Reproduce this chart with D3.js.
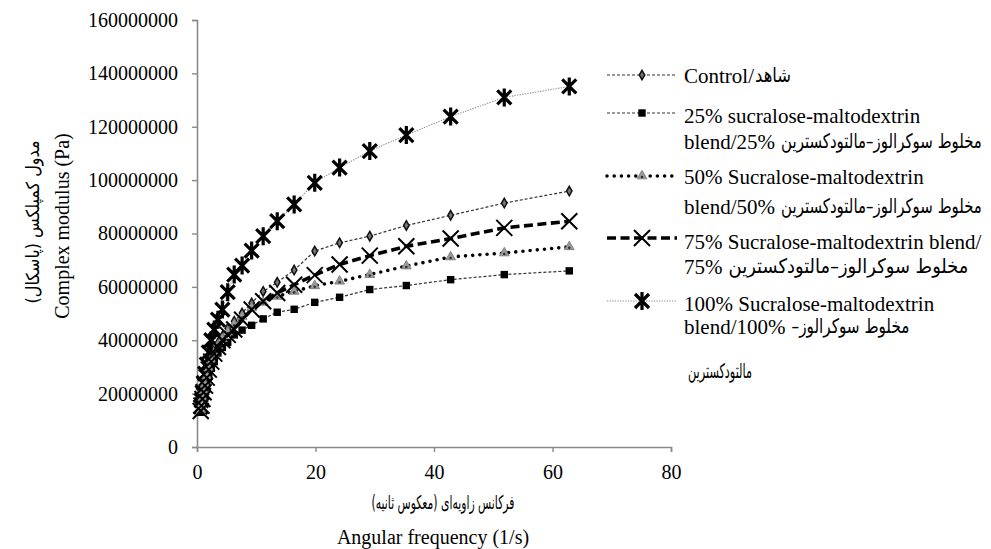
<!DOCTYPE html>
<html><head><meta charset="utf-8">
<script src="https://cdn.jsdelivr.net/npm/d3@7"></script>
<style>
html,body{margin:0;padding:0;background:#fff;}
svg{display:block;}
text{fill:#000;}
</style></head>
<body>
<svg id="chart" width="991" height="549"></svg>
<script>
// Angular frequency (1/s)
const freq = [0.628,0.761,0.922,1.117,1.354,1.640,1.987,2.407,2.916,3.533,4.281,5.186,6.283,7.612,9.222,11.17,13.54,16.40,19.87,24.07,29.16,35.33,42.81,51.86,62.83];
// Complex modulus (Pa), in millions
const controlVals = [14,16,18.5,21,24,27,30,33,36,39,41.5,44.5,47.1,50.2,54,58.3,61.7,66.3,73.4,76.5,79,83,86.8,91.4,95.9];
const s25Vals = [13,15,17,19.5,22,24.5,27,29.5,32,35.2,37.3,39.2,42,43.8,45.6,48,50.5,51.6,54.2,56.1,59,60.5,62.7,64.6,66];
const s50Vals = [14,16,18.5,21,23.5,26.5,29.5,32.5,35,38,40.5,43,46,48.9,52.2,54.2,56.4,58.3,60.4,62.1,64.6,67.8,71.2,72.7,75];
const s75Vals = [13.5,15.5,18,20.5,23,26,29,32,35,37.5,40,42,44,47.7,51.5,54.6,57.7,60.8,64.4,68.4,71.7,75.2,78.1,82.1,84.6];
const s100Vals = [15,17.5,20.5,24,27.5,31,35.5,40,44,47.7,51.5,58,64.6,68,73.6,79,84.6,90.9,99,104.7,110.9,116.9,123.8,131,135.1];
const xTicks = [0,20,40,60,80];
const yTicks = [0,20000000,40000000,60000000,80000000,100000000,120000000,140000000,160000000];
const seriesNames = ["control","s25","s50","s75","s100"];
// legend text: each row = [latin part, persian part]
const legendRows = [
  [["Control/","شاهد"]],
  [["25% sucralose-maltodextrin",""],["blend/25%","مخلوط سوکرالوز–مالتودکسترین"]],
  [["50% Sucralose-maltodextrin",""],["blend/50%","مخلوط سوکرالوز–مالتودکسترین"]],
  [["75% Sucralose-maltodextrin blend/",""],["75%","مخلوط سوکرالوز–مالتودکسترین"]],
  [["100% Sucralose-maltodextrin",""],["blend/100%","مخلوط سوکرالوز–"],["","مالتودکسترین"]]
];
const yTitle = "Complex modulus (Pa)";
const yTitleFa = "مدول کمپلکس (پاسکال)";
const xTitle = "Angular frequency (1/s)";
const xTitleFa = "فرکانس زاویه‌ای (معکوس ثانیه)";

const allVals = [controlVals,s25Vals,s50Vals,s75Vals,s100Vals];

const SERIF = "Liberation Serif, Times New Roman, serif";
const FA = "DejaVu Sans, Noto Sans, sans-serif";

const svg = d3.select("#chart");
const L = 197, R = 671, T = 20, B = 447;
const x = d3.scaleLinear().domain([0,80]).range([L,R]);
const y = d3.scaleLinear().domain([0,160000000]).range([B,T]);
const axisColor = "#8a8a8a";

// axes
const xa = svg.append("g").attr("transform",`translate(0,${B})`)
  .call(d3.axisBottom(x).tickValues(xTicks).tickSize(5).tickPadding(13).tickFormat(d3.format("d")));
const ya = svg.append("g").attr("transform",`translate(${L},0)`)
  .call(d3.axisLeft(y).tickValues(yTicks).tickSize(5).tickPadding(14).tickFormat(d3.format("d")));
[xa,ya].forEach(g=>{
  g.attr("font-family",SERIF).attr("font-size",20);
  g.select(".domain").attr("stroke",axisColor).attr("stroke-width",1.6);
  g.selectAll(".tick line").attr("stroke",axisColor).attr("stroke-width",1.4);
  g.selectAll(".tick text").attr("font-family",SERIF).attr("font-size",20).attr("fill","#000");
});

const styles = {
  control:{stroke:"#333",width:1.2,dash:"3,2",marker:"diamond"},
  s25:{stroke:"#333",width:1.2,dash:"3,2",marker:"square"},
  s50:{stroke:"#000",width:3.6,dash:"0,7.2",cap:"round",marker:"triangle"},
  s75:{stroke:"#000",width:3.6,dash:"9,4.5",marker:"x"},
  s100:{stroke:"#8f8f8f",width:1.1,dash:"1.3,1.3",marker:"star"}
};

function drawMarker(g, type){
  if(type==="diamond"){
    g.append("path").attr("d",d3.symbol(d3.symbolDiamond,26)()).attr("fill","#777").attr("stroke","#111").attr("stroke-width",1.5);
  } else if(type==="square"){
    g.append("path").attr("d",d3.symbol(d3.symbolSquare,55)()).attr("fill","#000");
  } else if(type==="triangle"){
    g.append("path").attr("d",d3.symbol(d3.symbolTriangle,42)()).attr("fill","#9a9a9a").attr("stroke","#777").attr("stroke-width",0.8);
    g.append("circle").attr("r",1.3).attr("cy",1).attr("fill","#333");
  } else if(type==="x"){
    g.append("path").attr("d","M-8,-8L8,8M-8,8L8,-8").attr("stroke","#000").attr("stroke-width",2);
  } else if(type==="star"){
    g.append("path").attr("d","M-7,-7L7,7M-7,7L7,-7M0,-9L0,9").attr("stroke","#000").attr("stroke-width",3.2);
  }
}

const line = d3.line().x((d,i)=>x(freq[i])).y(d=>y(d*1e6));

const order = [4,0,1,2,3];
order.forEach(si=>{
  const st = styles[seriesNames[si]];
  svg.append("path").datum(allVals[si]).attr("d",line)
    .attr("fill","none").attr("stroke",st.stroke).attr("stroke-width",st.width)
    .attr("stroke-dasharray",st.dash).attr("stroke-linecap",st.cap||"butt");
});
order.forEach(si=>{
  const st = styles[seriesNames[si]];
  svg.append("g").selectAll("g").data(allVals[si]).join("g")
    .attr("transform",(d,i)=>`translate(${x(freq[i])},${y(d*1e6)})`)
    .each(function(){drawMarker(d3.select(this),st.marker);});
});

// Persian text squeezed horizontally to a given width, centred at (cx, by), optional rotation
function faText(str, cx, by, width, size, rotate){
  const g = svg.append("g");
  const t = g.append("text").attr("x",0).attr("y",0)
    .attr("font-family",FA).attr("font-size",size)
    .attr("text-anchor","middle").attr("direction","rtl").text(str);
  const nat = t.node().getComputedTextLength();
  const sx = width / nat;
  g.attr("transform",`translate(${cx},${by})${rotate ? " rotate(-90)" : ""} scale(${sx},1)`);
  return g;
}

// legend layout
const legSampleY = [75,113,176,238,301];
const legBaselines = [[83],[123,149],[184,214],[249,274],[311,334,379]];
const faWidths = [[36],[0,201],[0,201],[0,240],[0,118,64]];
const textX = 684;
legendRows.forEach((rows,i)=>{
  const st = styles[seriesNames[i]];
  const ly = legSampleY[i];
  svg.append("line").attr("x1",607).attr("x2",677).attr("y1",ly).attr("y2",ly)
    .attr("stroke",st.stroke).attr("stroke-width",st.width).attr("stroke-dasharray",st.dash).attr("stroke-linecap",st.cap||"butt");
  drawMarker(svg.append("g").attr("transform",`translate(642,${ly})`),st.marker);
  rows.forEach((r,j)=>{
    const yy = legBaselines[i][j];
    let endX = textX;
    if(r[0]){
      const t = svg.append("text").attr("x",textX).attr("y",yy)
        .attr("font-family",SERIF).attr("font-size",21).text(r[0]);
      endX = textX + t.node().getComputedTextLength() + (j===0 ? 1 : 6);
    } else { endX = textX + 4; }
    if(r[1]){
      const w = faWidths[i][j];
      faText(r[1], endX + w/2, yy - 1, w, 20, false);
    }
  });
});

// axis titles
svg.append("text").attr("transform","translate(69,226) rotate(-90)").attr("text-anchor","middle")
  .attr("font-family",SERIF).attr("font-size",20).text(yTitle);
faText(yTitleFa, 39, 222, 163, 18, true);
faText(xTitleFa, 443, 509, 143, 19, false);
svg.append("text").attr("x",433).attr("y",544).attr("text-anchor","middle")
  .attr("font-family",SERIF).attr("font-size",20).text(xTitle);
</script>
</body></html>
